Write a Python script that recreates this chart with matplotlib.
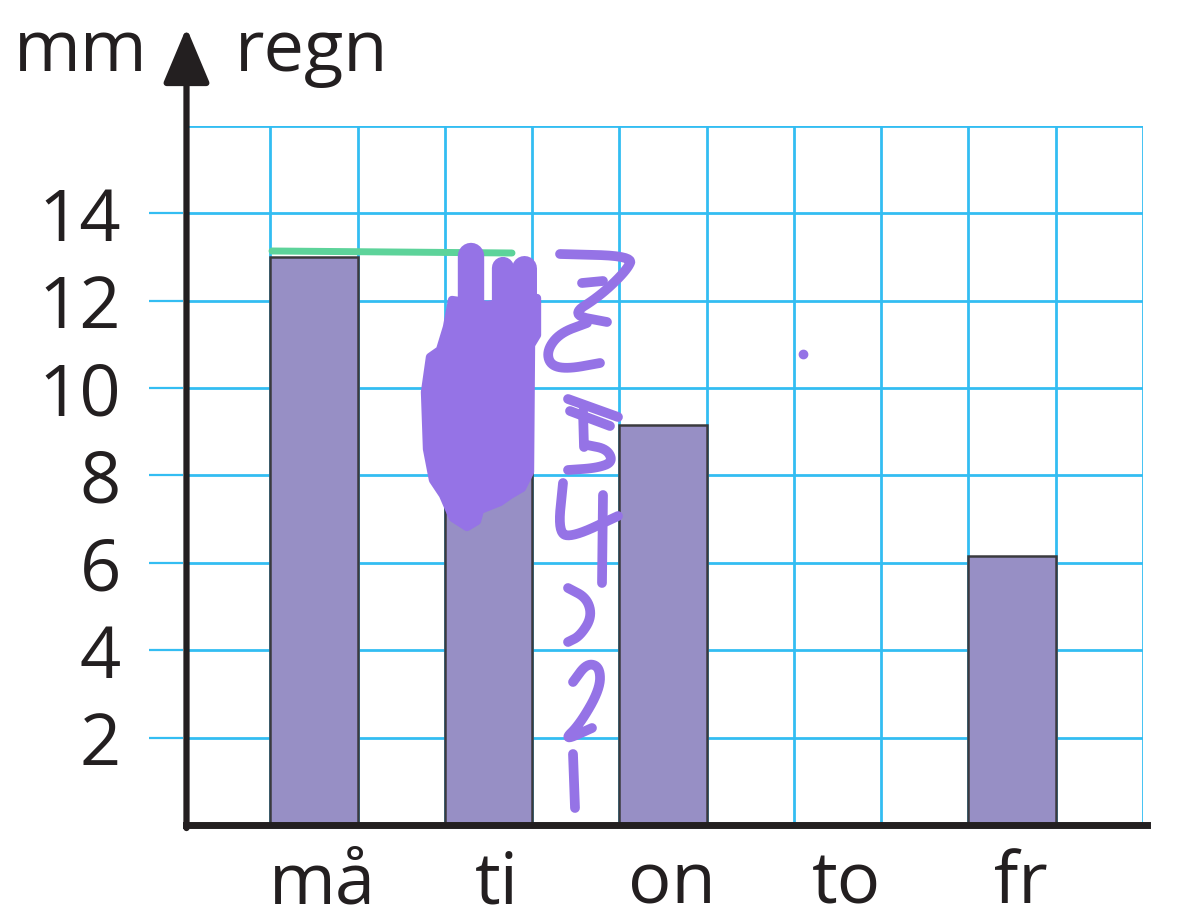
import numpy as np
import matplotlib
matplotlib.use("Agg")
import matplotlib.pyplot as plt
from matplotlib.patches import Polygon

# --- DATA --------------------------------------------------------------------
days = ["må", "ti", "on", "to", "fr"]
rain_mm = [13.0, 10.0, 9.15, 0.0, 6.15]     # ti is hidden under the scribble
y_ticks = [2, 4, 6, 8, 10, 12, 14]
y_label_left = "mm"
y_label_right = "regn"

# --- STYLE -------------------------------------------------------------------
GRID = "#33bdf2"
BAR = "#978fc5"
EDGE = "#3a3a3e"
INK = "#231f20"
PEN = "#9573e6"
GREEN = "#5dd39a"
FONT = "Open Sans"

W, H = 1200, 922
fig = plt.figure(figsize=(W / 100, H / 100), dpi=100)
ax = fig.add_axes([183 / W, 1 - 825 / H, (1143 - 183) / W, (825 - 126) / H])
ax.set_xlim(0, 11)
ax.set_ylim(0, 16)

# grid (drawn by hand so the top/right borders are grid lines, not spines)
for yv in range(2, 17, 2):
    ax.axhline(yv, xmin=0.003, color=GRID, lw=2.0, zorder=1)
for xv in range(1, 12):
    ax.axvline(xv, color=GRID, lw=2.0, zorder=1)

# bars, one grid cell wide, every other cell
x_pos = [1.5 + 2 * i for i in range(len(days))]
ax.bar(x_pos, rain_mm, width=1.0, color=BAR, edgecolor=EDGE, linewidth=1.8, zorder=2)

for s in ["top", "right", "left"]:
    ax.spines[s].set_visible(False)
ax.spines["bottom"].set_linewidth(5)
ax.spines["bottom"].set_color(INK)
ax.spines["bottom"].set_bounds(0.03, 11.05)
ax.spines["bottom"].set_zorder(5)

# y axis with arrow head
ax.annotate("", xy=(0.04, 18.25), xytext=(0.04, -0.07), xycoords="data",
            annotation_clip=False,
            arrowprops=dict(arrowstyle="-|>,head_length=0.5,head_width=0.21",
                            mutation_scale=68, lw=4.5, color=INK, shrinkA=0, shrinkB=0),
            zorder=6)

ax.set_yticks(y_ticks)
ax.set_yticklabels([str(v) for v in y_ticks], fontsize=52, family=FONT, color=INK)
ax.tick_params(axis="y", length=24.5, width=1.6, color=GRID, pad=20)
ax.set_xticks([x + 0.1 for x in x_pos])
ax.set_xticklabels(days, fontsize=52, family=FONT, color=INK)
ax.tick_params(axis="x", length=0, pad=17)

fig.text(148 / W, 1 - 71 / H, y_label_left, ha="right", va="baseline",
         fontsize=52, family=FONT, color=INK)
fig.text(235 / W, 1 - 71 / H, y_label_right, ha="left", va="baseline",
         fontsize=52, family=FONT, color=INK)

# --- HANDWRITTEN MARKS (pixel coords of the overlay) -------------------------
over = fig.add_axes([0, 0, 1, 1], facecolor="none")
over.set_xlim(0, W)
over.set_ylim(H, 0)
over.axis("off")


def chaikin(pts, n=3):
    pts = np.asarray(pts, float)
    for _ in range(n):
        if len(pts) < 3:
            break
        q = 0.75 * pts[:-1] + 0.25 * pts[1:]
        r = 0.25 * pts[:-1] + 0.75 * pts[1:]
        mid = np.empty((2 * len(q), 2))
        mid[0::2] = q
        mid[1::2] = r
        pts = np.vstack([pts[:1], mid, pts[-1:]])
    return pts


# green comparison line at the height of the first bar
over.plot([272, 512], [251, 253], color=GREEN, lw=5, solid_capstyle="round")

# scribble over the ti bar
body = [(452, 300), (487, 305), (537, 298), (537, 335), (531, 345), (530, 472),
        (522, 488), (510, 495), (500, 502), (480, 510), (477, 521), (467, 527),
        (453, 518), (443, 495), (433, 480), (427, 449), (425, 392), (430, 357),
        (440, 350), (447, 327)]
over.add_patch(Polygon(body, closed=True, facecolor=PEN, edgecolor=PEN,
                       lw=6, joinstyle="round"))
for fx, top, bot, w in [(471, 256, 335, 19), (503, 268, 320, 16), (524, 268, 330, 18)]:
    over.plot([fx, fx], [top, bot], color=PEN, lw=w, solid_capstyle="round")

strokes = [
    [(560, 254), (633, 256), (627, 270), (600, 296), (570, 315), (607, 322)],
    [(582, 283), (603, 281)],
    [(587, 323), (560, 333), (547, 350), (550, 365), (567, 369), (600, 363)],
    [(568, 399), (618, 417)],
    [(570, 411), (610, 426)],
    [(583, 411), (584, 447)],
    [(587, 445), (607, 449), (613, 462), (597, 468), (568, 470)],
    [(563, 483), (558, 533), (573, 537), (618, 516)],
    [(603, 495), (602, 583)],
    [(568, 588), (587, 598), (592, 617), (580, 636), (568, 642)],
    [(573, 682), (587, 663), (600, 667), (600, 689), (580, 724), (563, 741), (592, 728)],
    [(573, 754), (575, 808)],
]
for st in strokes:
    sm = chaikin(st)
    over.plot(sm[:, 0], sm[:, 1], color=PEN, lw=7, solid_capstyle="round",
              solid_joinstyle="round")

over.plot([803], [354], "o", color=PEN, ms=6)

fig.savefig("out.png", dpi=100)
